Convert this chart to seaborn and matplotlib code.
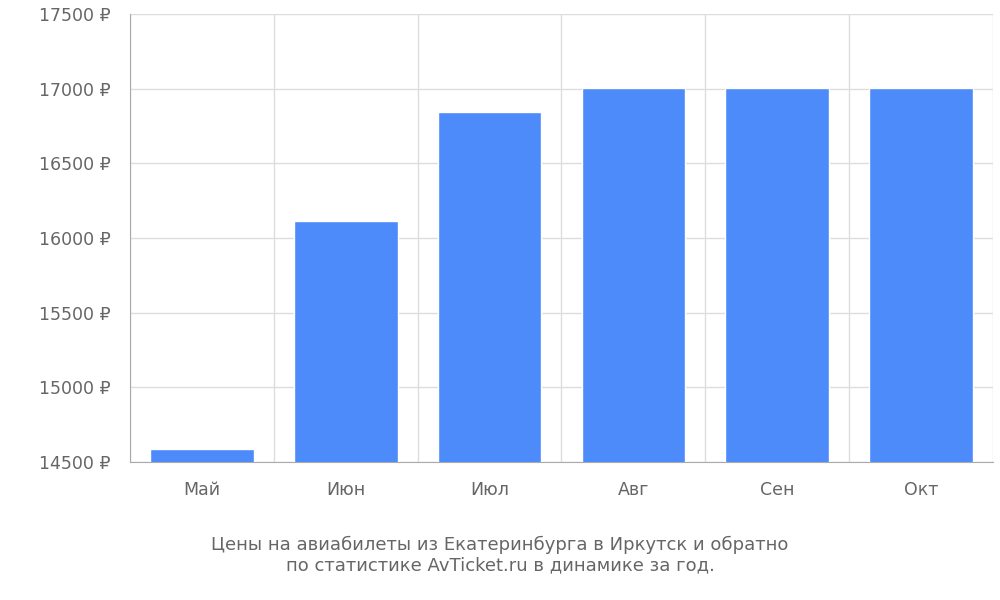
import matplotlib
matplotlib.use("Agg")
import matplotlib.pyplot as plt
import seaborn as sns
import pandas as pd
from matplotlib.ticker import FixedLocator

months = ["Май", "Июн", "Июл", "Авг", "Сен", "Окт"]
prices = [14587, 16114, 16845, 17004, 17004, 17004]
yticks = [14500, 15000, 15500, 16000, 16500, 17000, 17500]

sns.set_style("white")
plt.rcParams['font.family'] = ['DejaVu Sans']

df = pd.DataFrame({"month": months, "price": prices})
fig = plt.figure(figsize=(10, 6), dpi=100)
ax = fig.add_axes([0.13, 0.23, 0.863, 0.747])
sns.barplot(data=df, x="month", y="price", color="#4d8afa", saturation=1, width=0.72, ax=ax, zorder=3)
ax.set_ylim(14500, 17500)
ax.set_xlim(-0.5, len(months) - 0.5)
ax.set_yticks(yticks)
ax.set_yticklabels([f"{v} ₽" for v in yticks], fontsize=12.5, color="#666666")
ax.tick_params(axis="y", length=0, pad=14)
ax.tick_params(axis="x", which="major", length=0, labelsize=12.5, labelcolor="#666666", pad=14)
ax.xaxis.set_minor_locator(FixedLocator([i - 0.5 for i in range(len(months) + 1)]))
ax.tick_params(axis="x", which="minor", length=18, color="#cccccc", width=1)
ax.grid(True, axis="y", color="#dddddd", lw=1, zorder=0)
ax.grid(True, axis="x", which="minor", color="#dddddd", lw=1, zorder=0)
ax.set_xlabel("")
ax.set_ylabel("")
for s in ["top", "right"]:
    ax.spines[s].set_visible(False)
for s in ["left", "bottom"]:
    ax.spines[s].set_color("#aaaaaa")
fig.text(0.5, 0.075, "Цены на авиабилеты из Екатеринбурга в Иркутск и обратно\nпо статистике AvTicket.ru в динамике за год.",
         ha="center", va="center", fontsize=13, color="#666666", linespacing=1.2)
fig.savefig("out.png", dpi=100)
